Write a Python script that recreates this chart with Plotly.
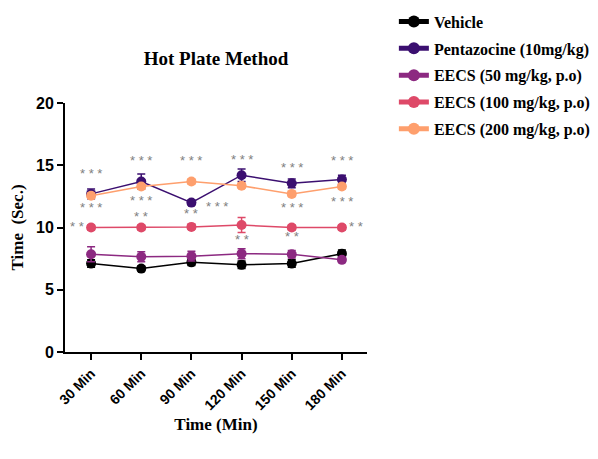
import plotly.graph_objects as go

categories = ["30 Min", "60 Min", "90 Min", "120 Min", "150 Min", "180 Min"]
series_names = ["Vehicle", "Pentazocine (10mg/kg)", "EECS (50 mg/kg, p.o)",
                "EECS (100 mg/kg, p.o)", "EECS (200 mg/kg, p.o)"]
vehicle = [7.1, 6.7, 7.2, 7.0, 7.1, 7.9]
pentazocine = [12.7, 13.7, 12.0, 14.2, 13.55, 13.85]
eecs50 = [7.85, 7.65, 7.7, 7.9, 7.85, 7.4]
eecs100 = [10.0, 10.0, 10.05, 10.2, 10.0, 10.0]
eecs200 = [12.55, 13.3, 13.7, 13.35, 12.7, 13.3]
vehicle_err = [0.3, 0.2, 0.25, 0.3, 0.3, 0.3]
pentazocine_err = [0.4, 0.6, 0.2, 0.5, 0.35, 0.35]
eecs50_err = [0.6, 0.4, 0.4, 0.4, 0.3, 0.2]
eecs100_err = [0.2, 0.2, 0.2, 0.6, 0.2, 0.2]
eecs200_err = [0.2, 0.2, 0.2, 0.2, 0.2, 0.2]
colors = ["#000000", "#3b0f70", "#8c2981", "#de4968", "#fe9f6d"]

# significance labels: (x position, y value, text)
sig_x = [0, 1, 2, 3, 4, 5, 0, 1, 1, 2, 2.5, 4, 5, -0.28, 5.28, 3, 4]
sig_y = [14.3, 15.4, 15.4, 15.5, 14.8, 15.4, 11.6, 12.15, 10.9, 11.1, 11.7, 11.6, 12.1, 10.05, 10.05, 9.0, 9.25]
sig_text = ["***", "***", "***", "***", "***", "***", "***", "***", "**", "**", "***", "***", "***", "**", "**", "**", "**"]

serif = "Liberation Serif"
sans = "Liberation Sans Narrow, Arial Narrow, Liberation Sans"
x = list(range(len(categories)))
data = [vehicle, pentazocine, eecs50, eecs100, eecs200]
errs = [vehicle_err, pentazocine_err, eecs50_err, eecs100_err, eecs200_err]

W, H = 590, 451  # page body has 8px margin

fig = go.Figure()
for i, (name, ys, er, c) in enumerate(zip(series_names, data, errs, colors)):
    fig.add_trace(go.Scatter(
        x=x, y=ys, name="<b>" + name + "</b>", mode="lines+markers",
        legendgroup="g%d" % i,
        line=dict(color=c, width=1.5),
        marker=dict(color=c, size=10),
        error_y=dict(type="data", array=er, visible=True, color=c, thickness=1.5, width=4),
    ))

for sx, sy, st in zip(sig_x, sig_y, sig_text):
    fig.add_annotation(x=sx, y=sy, text=" ".join(st), showarrow=False,
                       font=dict(family="Liberation Sans", size=13, color="#808080"))

fig.update_layout(
    width=W, height=H,
    margin=dict(l=57, r=231, t=95, b=107, autoexpand=False),
    paper_bgcolor="white", plot_bgcolor="white",
    title=dict(text="<b>Hot Plate Method</b>", x=(57 + 359) / 2 / W, xanchor="center",
               y=1 - 50 / H, yanchor="middle", automargin=False,
               font=dict(family=serif, size=19, color="black")),
    showlegend=True,
    legend=dict(x=1.089, y=1.395, xref="paper", yref="paper",
                xanchor="left", yanchor="top", traceorder="grouped",
                font=dict(family=serif, size=16, color="black"),
                tracegroupgap=3, itemsizing="constant", itemwidth=30,
                bgcolor="rgba(0,0,0,0)"),
    xaxis=dict(range=[-0.52, 5.5], tickmode="array", tickvals=x, ticktext=categories,
               tickangle=-45, showline=True, linecolor="black", linewidth=2,
               ticks="outside", tickcolor="black", tickwidth=2, ticklen=6,
               showgrid=False, zeroline=False, automargin=False,
               tickfont=dict(family=sans, size=14, color="black", weight="bold"),
               title=dict(text="<b>Time (Min)</b>", font=dict(family=serif, size=17, color="black"),
                          standoff=6)),
    yaxis=dict(range=[0, 20], tickvals=[0, 5, 10, 15, 20], showline=True, linecolor="black",
               linewidth=2, ticks="outside", tickcolor="black", tickwidth=2, ticklen=6,
               showgrid=False, zeroline=False, automargin=False,
               tickfont=dict(family=sans, size=16, color="black", weight="bold"),
               title=dict(text="<b>Time  (Sec.)</b>", font=dict(family=serif, size=17, color="black"),
                          standoff=12)),
)

fig.write_html("out.html")
